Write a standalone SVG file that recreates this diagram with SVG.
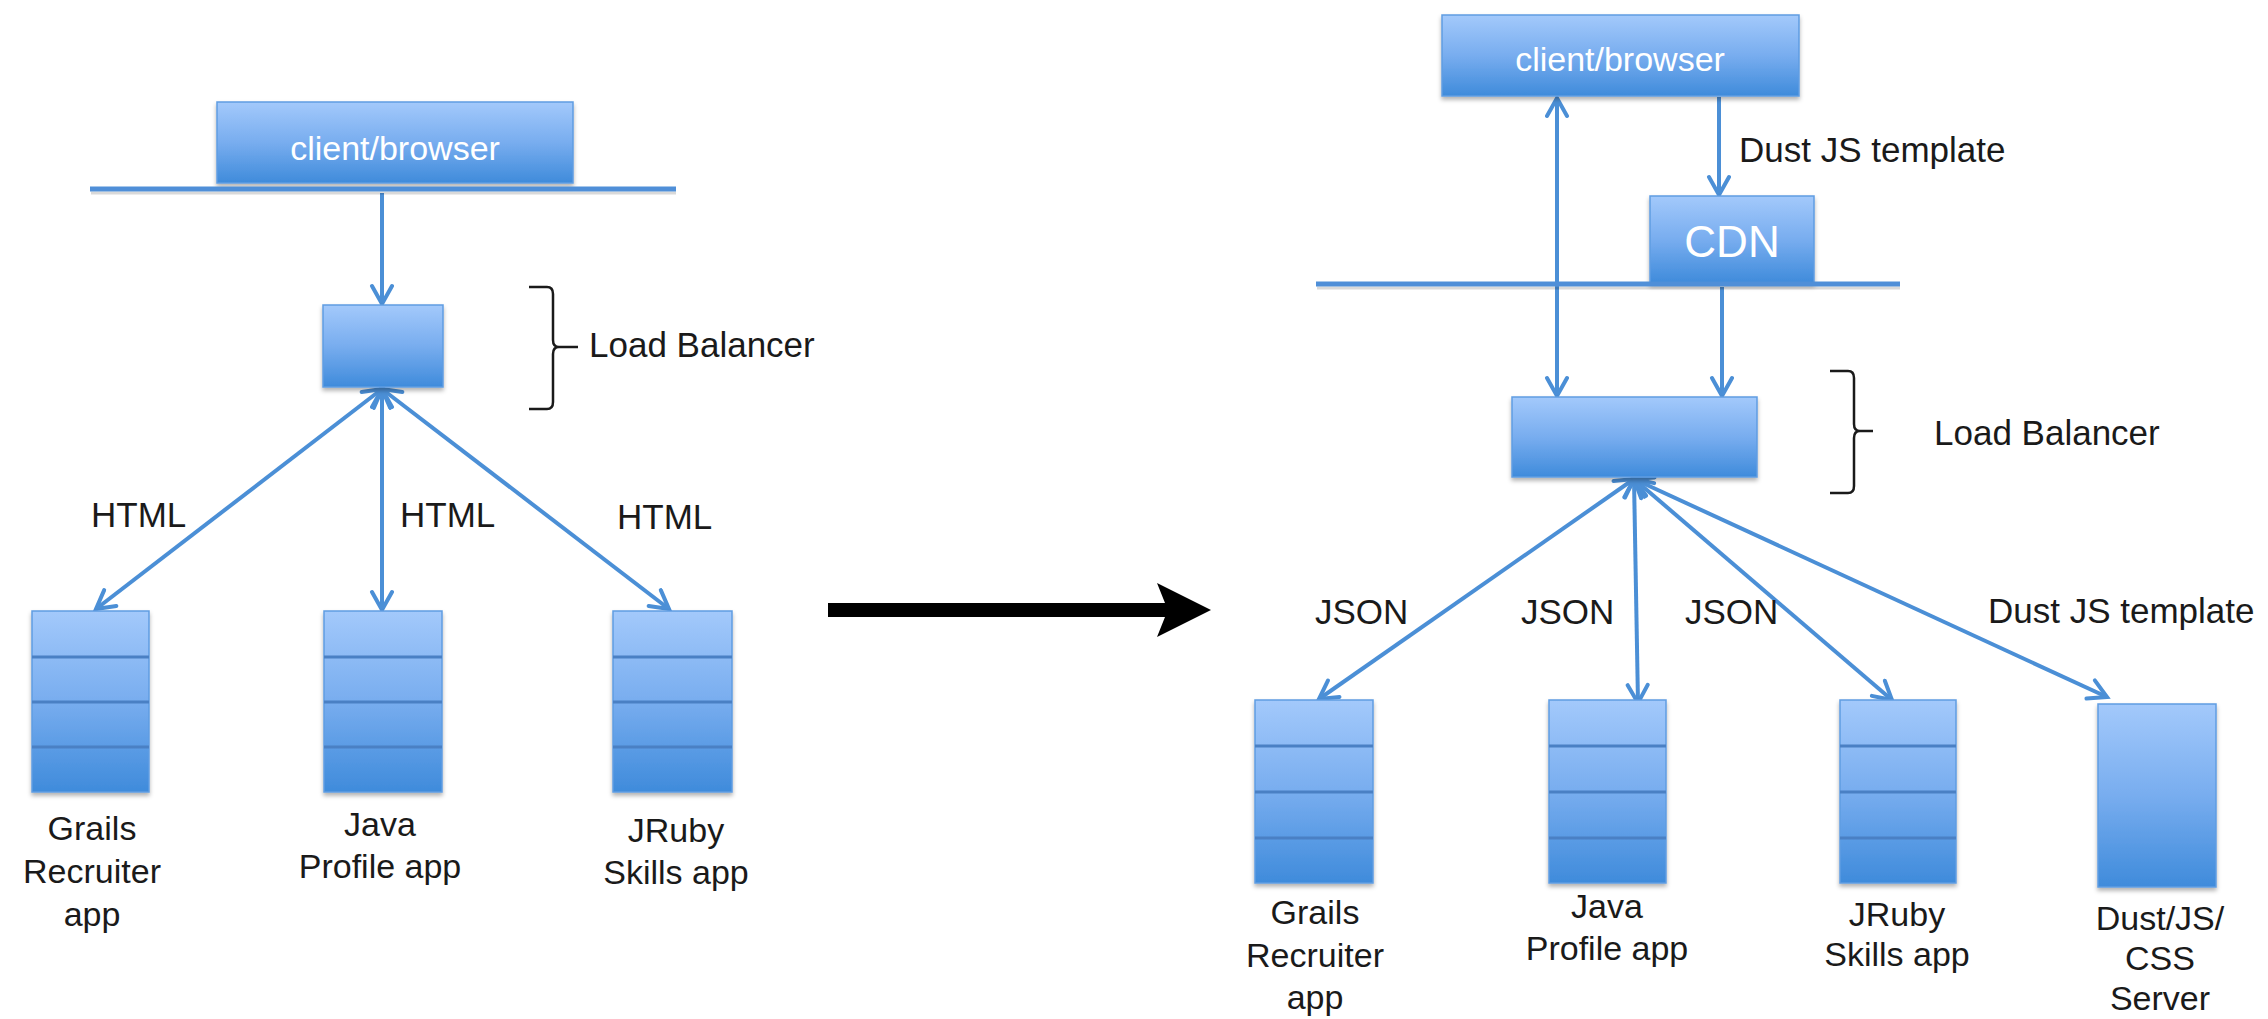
<svg xmlns="http://www.w3.org/2000/svg" width="2268" height="1019" viewBox="0 0 2268 1019">
<defs>
<linearGradient id="g" x1="0" y1="0" x2="0" y2="1">
<stop offset="0" stop-color="#a3c9fb"/>
<stop offset="0.5" stop-color="#78adef"/>
<stop offset="1" stop-color="#3f8bdb"/>
</linearGradient>
<filter id="sh" x="-10%" y="-10%" width="120%" height="130%">
<feDropShadow dx="0" dy="3" stdDeviation="2" flood-color="#000" flood-opacity="0.3"/>
</filter>
<marker id="ah" markerUnits="userSpaceOnUse" markerWidth="30" markerHeight="30" viewBox="0 0 30 30" refX="22" refY="12" orient="auto-start-reverse">
<path d="M4,2 L22,12 L4,22" fill="none" stroke="#4b8fd6" stroke-width="4" stroke-linecap="round" stroke-linejoin="miter"/>
</marker>
<style>
.box{fill:url(#g);stroke:#5f9de2;stroke-width:1.5;filter:url(#sh)}
.div{stroke:#4a80c4;stroke-width:3}
.net{stroke:#4f8fd8;stroke-width:5}
.nsh{stroke:#000;stroke-opacity:0.15;stroke-width:3}
.c{stroke:#4b8fd6;stroke-width:4;fill:none}
.one{marker-end:url(#ah)}
.two{marker-start:url(#ah);marker-end:url(#ah)}
.t{font-family:"Liberation Sans",Arial,Helvetica,sans-serif;font-size:34px;fill:#1a1a1a}
.e{font-size:35px}
.w{font-family:"Liberation Sans",Arial,Helvetica,sans-serif;font-size:34px;fill:#ffffff}
.m{text-anchor:middle}
.br{fill:none;stroke:#1a1a1a;stroke-width:2.5}
</style>
</defs>
<rect width="2268" height="1019" fill="#ffffff"/>

<g id="connectors">
<line class="c one" x1="382" y1="193" x2="382" y2="304"/>
<line class="c two" x1="382" y1="389" x2="96" y2="609"/>
<line class="c two" x1="382" y1="389" x2="382" y2="610"/>
<line class="c two" x1="382" y1="389" x2="669" y2="609"/>
<line class="c two" x1="1557" y1="98" x2="1557" y2="396"/>
<line class="c one" x1="1719" y1="97" x2="1719" y2="195"/>
<line class="c one" x1="1722" y1="287" x2="1722" y2="396"/>
<line class="c two" x1="1634" y1="479" x2="1319" y2="699"/>
<line class="c two" x1="1634" y1="479" x2="1638" y2="703"/>
<line class="c two" x1="1634" y1="479" x2="1892" y2="700"/>
<line class="c two" x1="1634" y1="479" x2="2107" y2="697"/>
</g>

<g id="left-client">
<rect class="box" x="217" y="102" width="356" height="81"/>
<text class="w m" x="395" y="160">client/browser</text>
</g>
<g id="left-network">
<line class="nsh" x1="91" y1="193" x2="676" y2="193"/>
<line class="net" x1="90" y1="189" x2="676" y2="189"/>
</g>
<g id="left-lb">
<rect class="box" x="323" y="305" width="120" height="82"/>
</g>
<g id="left-lb-label">
<path class="br" d="M529,287 L547,287 Q553,287 553,294 L553,340 Q553,347 559,347 Q553,347 553,354 L553,402 Q553,409 547,409 L529,409"/>
<line class="br" x1="559" y1="347" x2="578" y2="347"/>
<text class="t e" x="589" y="357">Load Balancer</text>
</g>
<g id="left-grails">
<rect class="box" x="32" y="611" width="117" height="181"/>
<line class="div" x1="32" y1="657" x2="149" y2="657"/>
<line class="div" x1="32" y1="702" x2="149" y2="702"/>
<line class="div" x1="32" y1="747" x2="149" y2="747"/>
<text class="t m" x="92" y="840">Grails</text>
<text class="t m" x="92" y="883">Recruiter</text>
<text class="t m" x="92" y="926">app</text>
</g>
<g id="left-java">
<rect class="box" x="324" y="611" width="118" height="181"/>
<line class="div" x1="324" y1="657" x2="442" y2="657"/>
<line class="div" x1="324" y1="702" x2="442" y2="702"/>
<line class="div" x1="324" y1="747" x2="442" y2="747"/>
<text class="t m" x="380" y="836">Java</text>
<text class="t m" x="380" y="878">Profile app</text>
</g>
<g id="left-jruby">
<rect class="box" x="613" y="611" width="119" height="181"/>
<line class="div" x1="613" y1="657" x2="732" y2="657"/>
<line class="div" x1="613" y1="702" x2="732" y2="702"/>
<line class="div" x1="613" y1="747" x2="732" y2="747"/>
<text class="t m" x="676" y="842">JRuby</text>
<text class="t m" x="676" y="884">Skills app</text>
</g>
<g id="left-labels">
<text class="t e" x="91" y="527">HTML</text>
<text class="t e" x="400" y="527">HTML</text>
<text class="t e" x="617" y="529">HTML</text>
</g>

<g id="transition-arrow">
<polygon points="828,603 1165,603 1157,583 1211,610 1157,637 1165,617 828,617" fill="#000000"/>
</g>

<g id="right-client">
<rect class="box" x="1442" y="15" width="357" height="81"/>
<text class="w m" x="1620" y="71">client/browser</text>
</g>
<g id="right-cdn">
<rect class="box" x="1650" y="196" width="164" height="87"/>
<text class="w m" x="1732" y="257" style="font-size:44px">CDN</text>
</g>
<g id="right-network">
<line class="nsh" x1="1317" y1="288" x2="1900" y2="288"/>
<line class="net" x1="1316" y1="284" x2="1900" y2="284"/>
</g>
<g id="right-lb">
<rect class="box" x="1512" y="397" width="245" height="80"/>
</g>
<g id="right-lb-label">
<path class="br" d="M1830,371 L1848,371 Q1854,371 1854,378 L1854,424 Q1854,431 1860,431 Q1854,431 1854,438 L1854,486 Q1854,493 1848,493 L1830,493"/>
<line class="br" x1="1860" y1="431" x2="1873" y2="431" stroke-width="4"/>
<text class="t e" x="1934" y="445">Load Balancer</text>
</g>
<g id="right-grails">
<rect class="box" x="1255" y="700" width="118" height="183"/>
<line class="div" x1="1255" y1="746" x2="1373" y2="746"/>
<line class="div" x1="1255" y1="792" x2="1373" y2="792"/>
<line class="div" x1="1255" y1="838" x2="1373" y2="838"/>
<text class="t m" x="1315" y="924">Grails</text>
<text class="t m" x="1315" y="967">Recruiter</text>
<text class="t m" x="1315" y="1009">app</text>
</g>
<g id="right-java">
<rect class="box" x="1549" y="700" width="117" height="183"/>
<line class="div" x1="1549" y1="746" x2="1666" y2="746"/>
<line class="div" x1="1549" y1="792" x2="1666" y2="792"/>
<line class="div" x1="1549" y1="838" x2="1666" y2="838"/>
<text class="t m" x="1607" y="918">Java</text>
<text class="t m" x="1607" y="960">Profile app</text>
</g>
<g id="right-jruby">
<rect class="box" x="1840" y="700" width="116" height="183"/>
<line class="div" x1="1840" y1="746" x2="1956" y2="746"/>
<line class="div" x1="1840" y1="792" x2="1956" y2="792"/>
<line class="div" x1="1840" y1="838" x2="1956" y2="838"/>
<text class="t m" x="1897" y="926">JRuby</text>
<text class="t m" x="1897" y="966">Skills app</text>
</g>
<g id="right-dust">
<rect class="box" x="2098" y="704" width="118" height="183"/>
<text class="t m" x="2160" y="930">Dust/JS/</text>
<text class="t m" x="2160" y="970">CSS</text>
<text class="t m" x="2160" y="1010">Server</text>
</g>
<g id="right-labels">
<text class="t e" x="1739" y="162">Dust JS template</text>
<text class="t e" x="1315" y="624">JSON</text>
<text class="t e" x="1521" y="624">JSON</text>
<text class="t e" x="1685" y="624">JSON</text>
<text class="t e" x="1988" y="623">Dust JS template</text>
</g>
</svg>
